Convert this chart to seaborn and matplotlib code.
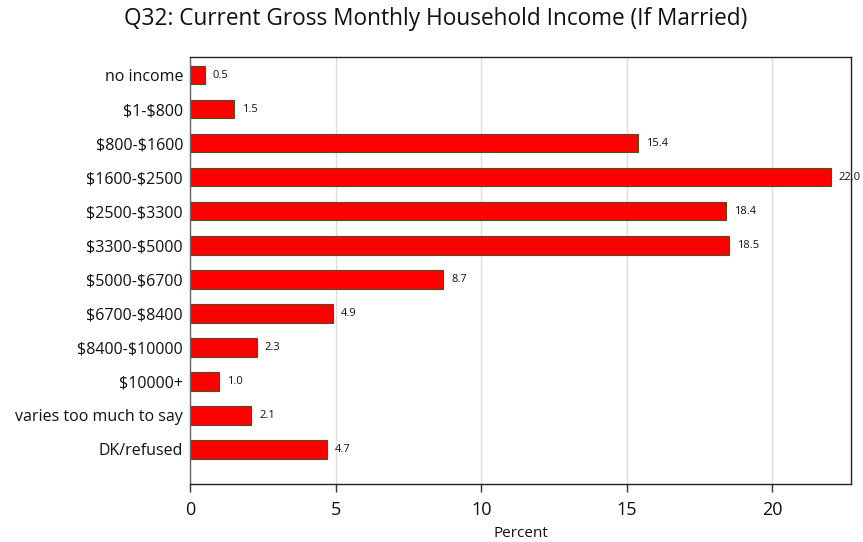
import matplotlib
matplotlib.use("Agg")
import matplotlib.pyplot as plt
import seaborn as sns
import pandas as pd

categories = [
    "no income", "$1-$800", "$800-$1600", "$1600-$2500", "$2500-$3300",
    "$3300-$5000", "$5000-$6700", "$6700-$8400", "$8400-$10000",
    "$10000+", "varies too much to say", "DK/refused",
]
percent = [0.5, 1.5, 15.4, 22.0, 18.4, 18.5, 8.7, 4.9, 2.3, 1.0, 2.1, 4.7]
x_ticks = [0, 5, 10, 15, 20]

df = pd.DataFrame({"category": categories, "percent": percent})

sns.set_theme(style="white")
plt.rcParams["font.family"] = ["Open Sans", "DejaVu Sans"]
plt.rcParams["text.parse_math"] = False

fig = plt.figure(figsize=(8.63, 5.42), dpi=100)
ax = fig.add_axes([0.2202, 0.107, 0.7659, 0.7878])

sns.barplot(data=df, x="percent", y="category", orient="h", color="#ff0000",
            saturation=1, width=0.55, edgecolor="#4a4f22", linewidth=0.8, ax=ax)

for i, v in enumerate(percent):
    ax.text(v + 0.27, i, f"{v:.1f}", va="center", ha="left", fontsize=8,
            color="#111111")

ax.set_xlim(0, 22.7)
ax.set_ylim(len(categories) - 1 + 1.02, -0.53)
ax.set_xticks(x_ticks)
ax.set_xticklabels([str(t) for t in x_ticks], fontsize=13, color="#111111")
ax.tick_params(axis="x", direction="out", length=6, width=1, color="#333333",
               pad=6, bottom=True)
ax.tick_params(axis="y", length=0, labelsize=11.5, pad=5, labelcolor="#111111")
ax.xaxis.grid(True, color="#dddddd", linewidth=1)
ax.set_axisbelow(True)
for s in ax.spines.values():
    s.set_color("#222222")
    s.set_linewidth(1)
ax.spines["left"].set_color("#666666")
ax.set_ylabel("")
ax.set_xlabel("Percent", fontsize=11, labelpad=5, color="#111111")

fig.text(0.505, 0.965, "Q32: Current Gross Monthly Household Income (If Married)",
         ha="center", va="center", fontsize=16.3, color="#111111")

fig.savefig("out.png", dpi=100)
